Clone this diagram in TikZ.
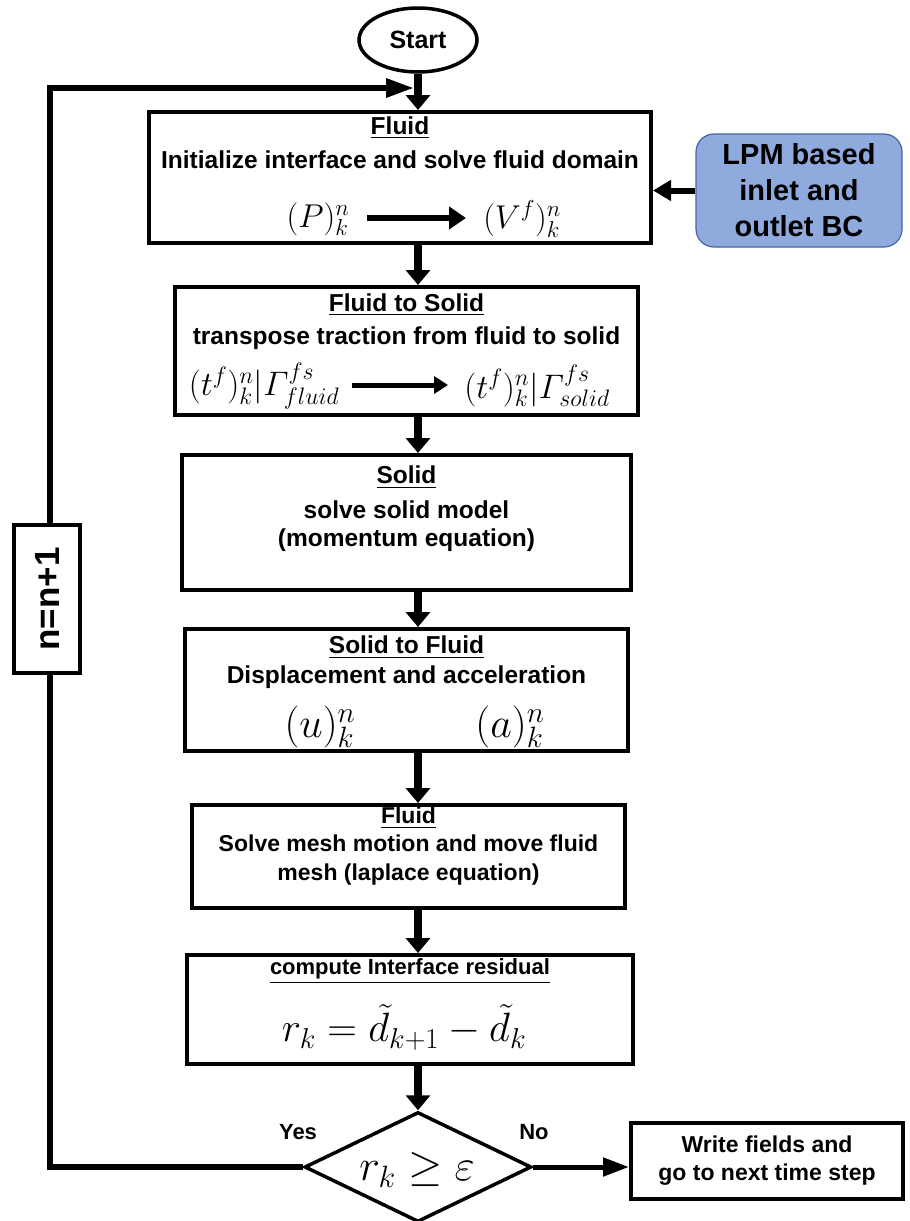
\RequirePackage{fix-cm}
\documentclass[tikz,border=0pt]{standalone}
\usepackage{amsmath}
\usepackage{fontspec}
\setmainfont{Liberation Sans}
\usetikzlibrary{arrows.meta,shapes.geometric}
\definecolor{lpmfill}{RGB}{143,170,220}
\definecolor{lpmdraw}{RGB}{70,100,160}
\newcommand{\fsz}[2]{\fontsize{#1}{#2}\selectfont}
\begin{document}
\begin{tikzpicture}[x=1pt,y=-1pt,
  box/.style={draw, line width=4pt, rectangle, inner sep=0pt},
  txt/.style={inner sep=0pt, font=\bfseries, align=center},
  flow/.style={line width=8pt, -{Triangle[width=24pt,length=15pt]}},
  innerarrow/.style={line width=6pt, -{Triangle[width=22pt,length=17pt]}},
  loopline/.style={line width=6pt, -{Triangle[width=18pt,length=28pt]}},
  sidearrow/.style={line width=6pt, -{Triangle[width=20pt,length=18pt]}}]
\useasboundingbox (0,0) rectangle (910,1221);

% start
\node[ellipse, draw, line width=3.5pt, minimum width=118pt, minimum height=64pt, inner sep=0pt, font=\bfseries\fsz{25}{30}] (st) at (418,40) {Start};
\coordinate (col) at (418,0);

% box 1
\node[box, minimum width=502pt, minimum height=131pt] (b1) at (400,177.5) {};
\node[txt] (b1t) at (400,128) {\fsz{24.5}{29}\underline{Fluid}};
\node[txt] (b1s) at (400,160) {\fsz{24.5}{29}Initialize interface and solve fluid domain};
\node[inner sep=0pt] (pk) at (318,219) {\fsz{33}{35}$(P)^n_k$};
\node[inner sep=0pt] (vk) at (522,219) {\fsz{33}{35}$(V^f)^n_k$};
\coordinate (a1s) at (367,218);
\coordinate (a1e) at (466,218);
\draw[innerarrow] (a1s) -- (a1e);

% LPM
\node[draw=lpmdraw, line width=1.2pt, fill=lpmfill, rounded corners=18pt, minimum width=206pt, minimum height=113pt, align=center, font=\bfseries\fsz{29}{36}] (lpm) at (799,190.5) {LPM based\\inlet and\\outlet BC};
\draw[sidearrow] (lpm.west) -- (lpm.west -| b1.east);

% box 2
\node[box, minimum width=463pt, minimum height=128pt] (b2) at (406.5,351) {};
\node[txt] (b2t) at (406.5,305) {\fsz{24.5}{29}\underline{Fluid to Solid}};
\node[txt] (b2s) at (406.5,338) {\fsz{24.5}{29}transpose traction from fluid to solid};
\node[inner sep=0pt] (tf) at (264,386) {\fsz{34}{36}$(t^f)^n_k|\varGamma^{fs}_{fluid}$};
\node[inner sep=0pt] (ts) at (537,386) {\fsz{34}{36}$(t^f)^n_k|\varGamma^{fs}_{solid}$};
\coordinate (a2s) at (352,385);
\coordinate (a2e) at (448,385);
\draw[line width=5pt, -{Triangle[width=17pt,length=14pt]}] (a2s) -- (a2e);

% box 3
\node[box, minimum width=449pt, minimum height=135pt] (b3) at (406.5,522.5) {};
\node[txt] (b3t) at (406.5,477) {\fsz{24.5}{29}\underline{Solid}};
\node[txt] (b3s) at (406.5,510) {\fsz{24.5}{29}solve solid model};
\node[txt] (b3u) at (406.5,540) {\fsz{24.5}{29}(momentum equation)};

% box 4
\node[box, minimum width=443pt, minimum height=122pt] (b4) at (406.5,690) {};
\node[txt] (b4t) at (406.5,647) {\fsz{24.5}{29}\underline{Solid to Fluid}};
\node[txt] (b4s) at (406.5,677) {\fsz{24.5}{29}Displacement and acceleration};
\node[inner sep=0pt] (uk) at (320,727) {\fsz{42}{44}$(u)^n_k$};
\node[inner sep=0pt] (ak) at (510,727) {\fsz{42}{44}$(a)^n_k$};

% box 5
\node[box, minimum width=433pt, minimum height=103pt] (b5) at (408.5,856.5) {};
\node[txt] (b5t) at (408.5,818) {\fsz{23}{28}\underline{Fluid}};
\node[txt, font={\bfseries\fsz{23}{29}}] (b5s) at (408.5,860) {Solve mesh motion and move fluid\\mesh (laplace equation)};

% box 6
\node[box, minimum width=446pt, minimum height=109pt] (b6) at (410,1009.5) {};
\node[txt] (b6t) at (410,971) {\fsz{22}{26}\underline{compute Interface residual}};
\node[inner sep=0pt] (rf) at (404,1027) {\fsz{41}{44}$r_k=\tilde{d}_{k+1}-\tilde{d}_k$};

% decision
\node[diamond, draw, line width=3.5pt, minimum width=227pt, minimum height=110pt, inner sep=0pt, shape aspect=2.06] (dm) at (418,1167) {};
\node[inner sep=0pt] (dmf) at (417,1170) {\fsz{44}{46}$r_k\geq\varepsilon$};
\node[txt] (yes) at (298,1132) {\fsz{22}{26}Yes};
\node[txt] (no) at (534,1132) {\fsz{22}{26}No};

% write
\node[box, minimum width=272pt, minimum height=76pt, align=center, font=\bfseries\fsz{23}{28}] (wr) at (767,1161) {Write fields and\\go to next time step};

% main arrows
\draw[flow] (st.south -| col) -- (b1.north -| col);
\draw[flow] (b1.south -| col) -- (b2.north -| col);
\draw[flow] (b2.south -| col) -- (b3.north -| col);
\draw[flow] (b3.south -| col) -- (b4.north -| col);
\draw[flow] (b4.south -| col) -- (b5.north -| col);
\draw[flow] (b5.south -| col) -- (b6.north -| col);
\draw[flow] (b6.south -| col) -- (dm.north);
\draw[line width=5pt, -{Triangle[width=18pt,length=26pt]}] (dm.east) -- (dm.east -| wr.west);

% loop
\coordinate (lc) at (50,88);
\coordinate (jn) at (414,88);
\draw[loopline] (dm.west) -| (lc) -- (jn);
\node[box, fill=white, rotate=90, minimum width=148pt, minimum height=66pt, font=\bfseries\fsz{35}{40}] (nb) at (47,599) {n=n+1};
\end{tikzpicture}
\end{document}
